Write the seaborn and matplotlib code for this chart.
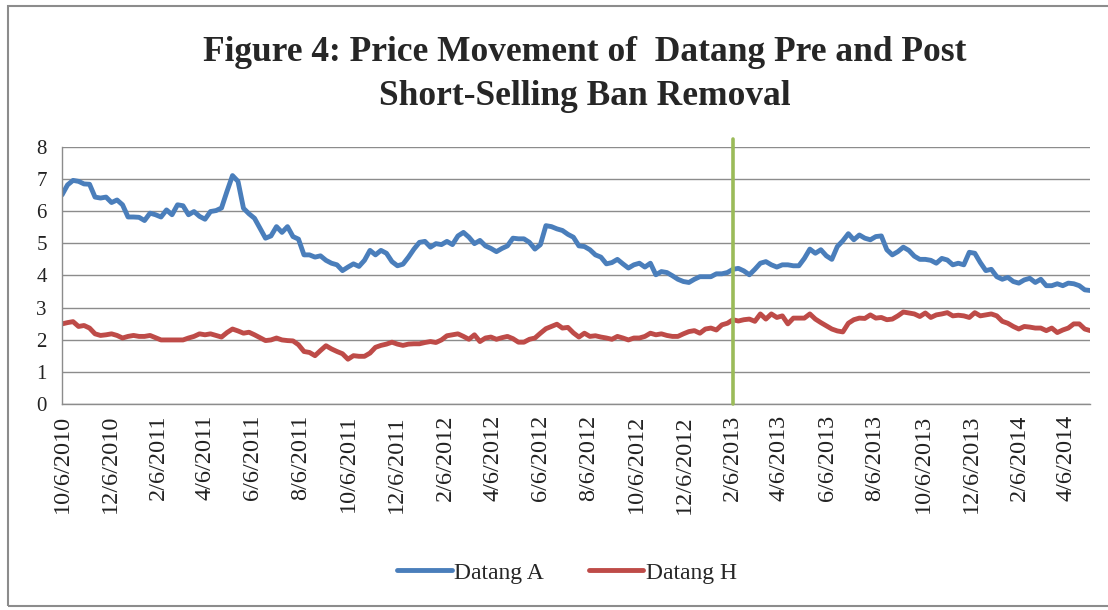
import pandas as pd
import matplotlib.pyplot as plt
import seaborn as sns
from matplotlib.patches import Rectangle

# weekly closing prices, first week starts 10/6/2010
start_date = "2010-10-06"

datang_a = [
    6.51, 6.82, 6.96, 6.93, 6.85, 6.84, 6.44, 6.41, 6.44, 6.27,
    6.35, 6.20, 5.82, 5.82, 5.81, 5.71, 5.94, 5.89, 5.82, 6.04,
    5.89, 6.20, 6.17, 5.89, 5.99, 5.84, 5.75, 5.99, 6.02, 6.10,
    6.62, 7.11, 6.93, 6.09, 5.92, 5.78, 5.47, 5.16, 5.23, 5.52,
    5.34, 5.52, 5.21, 5.13, 4.64, 4.64, 4.57, 4.61, 4.47, 4.38,
    4.33, 4.15, 4.26, 4.36, 4.28, 4.47, 4.78, 4.64, 4.78, 4.69,
    4.43, 4.30, 4.35, 4.57, 4.82, 5.03, 5.06, 4.88, 4.99, 4.96,
    5.06, 4.96, 5.23, 5.34, 5.19, 4.99, 5.09, 4.92, 4.84, 4.74,
    4.84, 4.92, 5.16, 5.14, 5.14, 5.03, 4.82, 4.96, 5.55, 5.52,
    5.45, 5.40, 5.28, 5.19, 4.92, 4.90, 4.80, 4.64, 4.57, 4.36,
    4.40, 4.50, 4.36, 4.23, 4.33, 4.38, 4.26, 4.38, 4.02, 4.12,
    4.09, 3.99, 3.88, 3.81, 3.78, 3.88, 3.96, 3.96, 3.96, 4.05,
    4.05, 4.09, 4.19, 4.22, 4.14, 4.02, 4.19, 4.38, 4.43, 4.33,
    4.26, 4.33, 4.33, 4.30, 4.30, 4.53, 4.82, 4.69, 4.80, 4.61,
    4.50, 4.90, 5.08, 5.30, 5.11, 5.26, 5.16, 5.11, 5.21, 5.23,
    4.80, 4.64, 4.74, 4.88, 4.78, 4.60, 4.50, 4.50, 4.47, 4.38,
    4.53, 4.48, 4.33, 4.38, 4.33, 4.72, 4.69, 4.40, 4.15, 4.19,
    3.96, 3.88, 3.94, 3.81, 3.76, 3.86, 3.91, 3.78, 3.88, 3.68,
    3.68, 3.74, 3.68, 3.76, 3.74, 3.68, 3.55, 3.53,
]

datang_h = [
    2.49, 2.53, 2.56, 2.41, 2.44, 2.36, 2.18, 2.13, 2.15, 2.18,
    2.13, 2.05, 2.10, 2.13, 2.10, 2.10, 2.13, 2.06, 1.99, 1.99,
    1.99, 1.99, 1.99, 2.05, 2.10, 2.18, 2.15, 2.18, 2.13, 2.08,
    2.22, 2.33, 2.27, 2.20, 2.23, 2.15, 2.06, 1.97, 1.99, 2.05,
    1.99, 1.97, 1.96, 1.84, 1.63, 1.60, 1.50, 1.66, 1.81, 1.71,
    1.63, 1.56, 1.39, 1.50, 1.48, 1.48, 1.58, 1.76, 1.82, 1.86,
    1.92, 1.86, 1.82, 1.86, 1.87, 1.87, 1.91, 1.94, 1.91, 1.99,
    2.12, 2.15, 2.18, 2.10, 2.01, 2.15, 1.94, 2.05, 2.08, 2.01,
    2.06, 2.10, 2.03, 1.92, 1.92, 2.01, 2.05, 2.20, 2.34, 2.41,
    2.48, 2.36, 2.38, 2.21, 2.08, 2.20, 2.10, 2.12, 2.08, 2.05,
    2.01, 2.10, 2.05, 1.99, 2.05, 2.05, 2.10, 2.20, 2.15, 2.18,
    2.13, 2.10, 2.10, 2.18, 2.25, 2.28, 2.20, 2.33, 2.36, 2.30,
    2.46, 2.51, 2.62, 2.58, 2.62, 2.64, 2.57, 2.80, 2.64, 2.80,
    2.69, 2.74, 2.49, 2.67, 2.67, 2.67, 2.80, 2.64, 2.53, 2.43,
    2.33, 2.27, 2.24, 2.51, 2.62, 2.67, 2.66, 2.77, 2.67, 2.69,
    2.62, 2.64, 2.74, 2.86, 2.83, 2.80, 2.72, 2.83, 2.69, 2.77,
    2.80, 2.84, 2.74, 2.76, 2.74, 2.69, 2.84, 2.74, 2.77, 2.80,
    2.74, 2.57, 2.51, 2.41, 2.33, 2.41, 2.39, 2.36, 2.36, 2.28,
    2.36, 2.22, 2.30, 2.36, 2.49, 2.49, 2.33, 2.28,
]

tick_labels = [
    "10/6/2010", "12/6/2010", "2/6/2011", "4/6/2011", "6/6/2011", "8/6/2011",
    "10/6/2011", "12/6/2011", "2/6/2012", "4/6/2012", "6/6/2012", "8/6/2012",
    "10/6/2012", "12/6/2012", "2/6/2013", "4/6/2013", "6/6/2013", "8/6/2013",
    "10/6/2013", "12/6/2013", "2/6/2014", "4/6/2014",
]
y_ticks = [0, 1, 2, 3, 4, 5, 6, 7, 8]
ban_removal = "2013-02-06"

weeks = pd.date_range(start_date, periods=len(datang_a), freq="7D")
df = pd.DataFrame({"date": weeks, "Datang A": datang_a, "Datang H": datang_h})
long = df.melt(id_vars="date", var_name="series", value_name="price")

sns.set_style("white")
plt.rcParams["font.family"] = ["Liberation Serif", "DejaVu Serif"]

fig = plt.figure(figsize=(11.08, 6.10), dpi=100)
ax = fig.add_axes([0.056, 0.338, 0.928, 0.421])

sns.lineplot(data=long, x="date", y="price", hue="series",
             palette=["#4A7EBB", "#BE4B48"], linewidth=3.5, ax=ax, legend=False)

# ban removal marker
ban = pd.Timestamp(ban_removal)
ax.plot([ban, ban], [0, 8.25], color="#9BBB59", lw=2.6, clip_on=False, zorder=5)

ax.set_xlim(weeks[0], weeks[-1])
ax.set_ylim(0, 8)
ax.set_yticks(y_ticks)
ax.set_xticks(pd.to_datetime(tick_labels, format="%m/%d/%Y"))
ax.set_xticklabels(tick_labels, rotation=90)
ax.set_xlabel("")
ax.set_ylabel("")

ax.grid(axis="y", color="#8C8C8C", lw=1)
ax.grid(axis="x", visible=False)
for side in ["top", "right"]:
    ax.spines[side].set_visible(False)
for side in ["left", "bottom"]:
    ax.spines[side].set_color("#8C8C8C")
    ax.spines[side].set_linewidth(1)
ax.tick_params(axis="both", direction="out", length=5, color="#8C8C8C",
               width=1, labelsize=15, labelcolor="#222222")
ax.tick_params(axis="y", pad=6)
ax.tick_params(axis="x", pad=3, labelsize=17.5)

fig.text(0.528, 0.878, "Figure 4: Price Movement of  Datang Pre and Post\nShort-Selling Ban Removal",
         ha="center", va="center", fontsize=25.5, fontweight="bold", linespacing=1.42)

fig.legend(handles=ax.lines[:2], labels=["Datang A", "Datang H"], loc="center",
           bbox_to_anchor=(0.512, 0.061), ncol=2, frameon=False, fontsize=17,
           handlelength=2.3, handletextpad=0.12, columnspacing=1.9)

fig.patches.append(Rectangle((8 / 1108, 4 / 610), 1.2, 1 - 10 / 610,
                             transform=fig.transFigure, fill=False,
                             edgecolor="#8C8C8C", lw=1.5))

fig.savefig("out.png", dpi=100)
